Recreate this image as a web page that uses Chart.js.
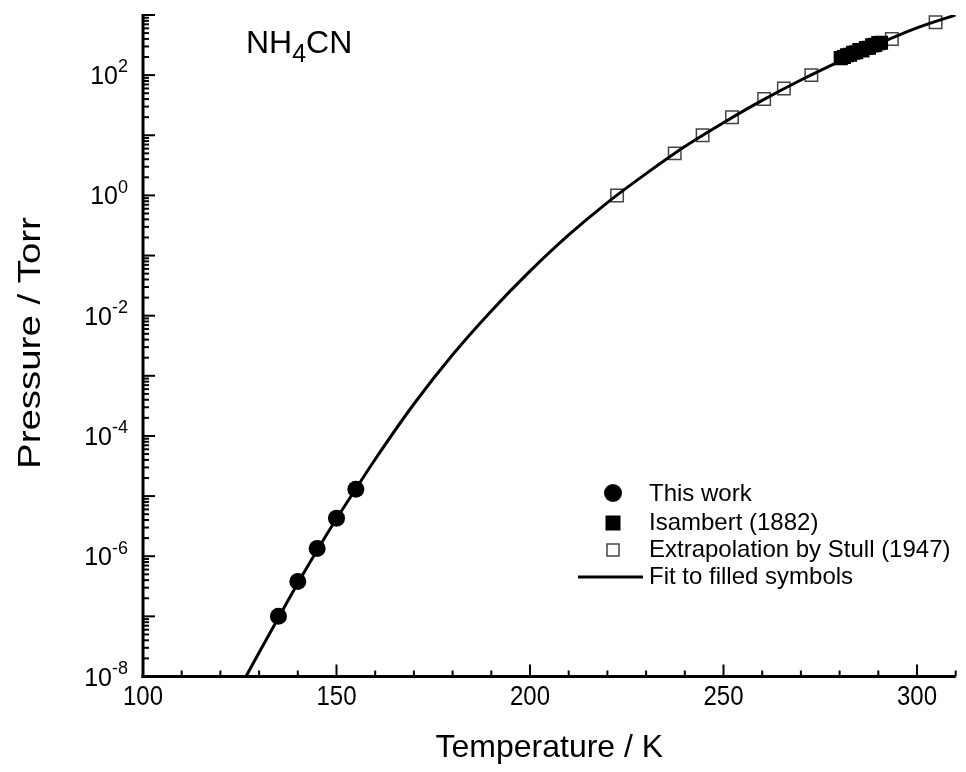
<!DOCTYPE html>
<html>
<head>
<meta charset="utf-8">
<script src="https://cdn.jsdelivr.net/npm/chart.js@4.4.0/dist/chart.umd.min.js"></script>
<style>
  html, body { margin: 0; padding: 0; background: #fff; }
  #wrap { width: 966px; height: 772px; }
</style>
</head>
<body>
<div id="wrap"><canvas id="vp" width="966" height="772"></canvas></div>
<script>
// values
const thisWorkT = [135, 140, 145, 150, 155];
const thisWorkP = [1.0e-7, 3.8e-7, 1.35e-6, 4.3e-6, 1.3e-5];

const isambertT = [280.3, 281.1, 281.9, 282.7, 283.5, 284.3, 285.1, 285.9, 286.8, 287.6, 288.4, 289.2, 290.0, 290.7];
const isambertP = [192, 200, 214, 218, 236, 240, 262, 258, 283, 285, 312, 318, 340, 345];

const stullT = [222.5, 237.4, 244.6, 252.2, 260.5, 265.6, 272.7, 293.5, 304.8];
const stullP = [1, 5, 10, 20, 40, 60, 100, 400, 760];

// fit curve, sampled from the drawn line
const fitT = [126.6, 130, 135, 140, 145, 150, 155, 160, 170, 180, 190, 200, 210, 220, 230, 240, 250, 260, 270, 280, 290, 300, 310];
const fitP = [1e-8, 2.5e-8, 9.5e-8, 3.55e-7, 1.26e-6, 4.2e-6, 1.32e-5, 4.1e-5, 3.4e-4, 2.24e-3, 1.2e-2, 5.5e-2, 0.22, 0.76, 2.3, 6.5, 16.2, 38, 83, 170, 331, 610, 1000];

// axis ticks
const xLabels = [100, 150, 200, 250, 300];
const xMinor = [110, 120, 130, 140, 160, 170, 180, 190, 210, 220, 230, 240, 260, 270, 280, 290, 310];
const yDecades = [-8, -7, -6, -5, -4, -3, -2, -1, 0, 1, 2, 3];
const yLabelExps = [-8, -6, -4, -2, 0, 2];

const FONT = "Arial, 'Liberation Sans', sans-serif";

const pts = (xs, ys) => xs.map((x, i) => ({ x: x, y: ys[i] }));

function line(ctx, x1, y1, x2, y2) {
    ctx.beginPath();
    ctx.moveTo(x1, y1);
    ctx.lineTo(x2, y2);
    ctx.stroke();
}

// axes drawn inward like the original (Origin style)
const frame = {
    id: 'frame',
    beforeDatasetsDraw(chart) {
        const { ctx, chartArea: a, scales: { x, y } } = chart;
        ctx.save();
        ctx.strokeStyle = '#000';
        ctx.lineCap = 'butt';
        ctx.lineWidth = 2;
        xLabels.forEach(v => { const p = x.getPixelForValue(v); line(ctx, p, a.bottom, p, a.bottom - 12); });
        xMinor.forEach(v => { const p = x.getPixelForValue(v); line(ctx, p, a.bottom, p, a.bottom - 6); });
        yDecades.forEach(e => {
            const p = y.getPixelForValue(Math.pow(10, e));
            line(ctx, a.left, p, a.left + 12, p);
            if (e < 3) {
                for (let m = 2; m <= 9; m++) {
                    const q = y.getPixelForValue(m * Math.pow(10, e));
                    line(ctx, a.left, q, a.left + 6, q);
                }
            }
        });
        ctx.lineWidth = 3;
        line(ctx, a.left, a.top - 1, a.left, a.bottom + 1.5);
        line(ctx, a.left - 1.5, a.bottom, a.right, a.bottom);
        ctx.restore();
    },
    afterDraw(chart) {
        const { ctx, chartArea: a, scales: { x, y } } = chart;
        ctx.save();
        ctx.fillStyle = '#000';
        ctx.textBaseline = 'alphabetic';

        // x tick labels
        ctx.font = '24px ' + FONT;
        ctx.textAlign = 'center';
        xLabels.forEach(v => {
            ctx.save();
            ctx.translate(x.getPixelForValue(v), a.bottom + 28);
            ctx.scale(1, 1.18);
            ctx.fillText(String(v), 0, 0);
            ctx.restore();
        });

        // y tick labels 10^n
        ctx.textAlign = 'left';
        yLabelExps.forEach(e => {
            const p = y.getPixelForValue(Math.pow(10, e));
            ctx.font = '25px ' + FONT;
            const w1 = ctx.measureText('10').width;
            ctx.font = '18px ' + FONT;
            const w2 = ctx.measureText(String(e)).width;
            const x0 = a.left - 15 - w1 - w2;
            ctx.font = '25px ' + FONT;
            ctx.fillText('10', x0, p + 9);
            ctx.font = '18px ' + FONT;
            ctx.fillText(String(e), x0 + w1, p - 2.7);
        });

        // axis titles
        ctx.font = '32px ' + FONT;
        ctx.textAlign = 'center';
        ctx.fillText('Temperature / K', (a.left + a.right) / 2, 757);
        ctx.save();
        ctx.translate(40, 343);
        ctx.rotate(-Math.PI / 2);
        ctx.scale(1.2, 1);
        ctx.fillText('Pressure / Torr', 0, 0);
        ctx.restore();

        // compound label
        ctx.textAlign = 'left';
        let cx = 246;
        ctx.font = '32px ' + FONT;
        ctx.fillText('NH', cx, 53);
        cx += ctx.measureText('NH').width;
        ctx.font = '25px ' + FONT;
        ctx.fillText('4', cx, 62);
        cx += ctx.measureText('4').width;
        ctx.font = '32px ' + FONT;
        ctx.fillText('CN', cx, 53);

        // legend
        const sx = 613, tx = 649;
        ctx.font = '24px ' + FONT;
        ctx.beginPath();
        ctx.arc(sx, 493, 9, 0, Math.PI * 2);
        ctx.fill();
        ctx.fillText('This work', tx, 501);
        ctx.fillRect(sx - 7.5, 523 - 7.5, 15, 15);
        ctx.fillText('Isambert (1882)', tx, 530);
        ctx.strokeStyle = '#444';
        ctx.lineWidth = 1.5;
        ctx.strokeRect(sx - 6, 550 - 6, 12, 12);
        ctx.fillText('Extrapolation by Stull (1947)', tx, 557);
        ctx.strokeStyle = '#000';
        ctx.lineWidth = 3;
        line(ctx, 578, 577, 643, 577);
        ctx.fillText('Fit to filled symbols', tx, 584);
        ctx.restore();
    }
};

new Chart(document.getElementById('vp'), {
    type: 'scatter',
    data: {
        datasets: [
            {
                label: 'Fit to filled symbols',
                data: pts(fitT, fitP),
                showLine: true,
                borderColor: '#000',
                borderWidth: 3,
                pointRadius: 0,
                fill: false,
                cubicInterpolationMode: 'monotone',
                order: 0
            },
            {
                label: 'This work',
                data: pts(thisWorkT, thisWorkP),
                pointStyle: 'circle',
                pointRadius: 8.5,
                pointBackgroundColor: '#000',
                pointBorderWidth: 0,
                backgroundColor: '#000',
                order: 1
            },
            {
                label: 'Isambert (1882)',
                data: pts(isambertT, isambertP),
                pointStyle: 'rect',
                pointRadius: 10,
                pointBackgroundColor: '#000',
                pointBorderWidth: 0,
                backgroundColor: '#000',
                order: 1
            },
            {
                label: 'Extrapolation by Stull (1947)',
                data: pts(stullT, stullP),
                pointStyle: 'rect',
                pointRadius: 8.8,
                pointBackgroundColor: 'rgba(255,255,255,0)',
                pointBorderColor: '#444',
                pointBorderWidth: 1.5,
                order: 2
            }
        ]
    },
    options: {
        responsive: false,
        animation: false,
        devicePixelRatio: 1,
        events: [],
        layout: { padding: { left: 143, top: 15, right: 3, bottom: 95.5 } },
        scales: {
            x: { type: 'linear', min: 100, max: 310, display: false },
            y: { type: 'logarithmic', min: 1e-8, max: 1e3, display: false }
        },
        plugins: {
            legend: { display: false },
            tooltip: { enabled: false }
        }
    },
    plugins: [frame]
});
</script>
</body>
</html>
